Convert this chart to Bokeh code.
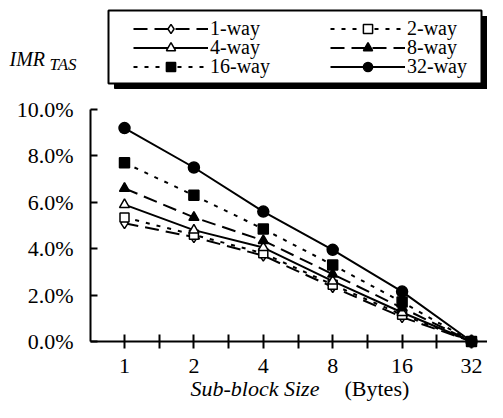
from bokeh.plotting import figure
from bokeh.models import (Range1d, FixedTicker, Legend, LegendItem, Label,
                          BoxAnnotation, NumeralTickFormatter)
from bokeh.embed import file_html
from bokeh.resources import INLINE

# ---- data ----
sizes = ["1", "2", "4", "8", "16", "32"]
way1 = [5.1, 4.5, 3.7, 2.35, 1.05, 0.0]
way2 = [5.35, 4.6, 3.8, 2.45, 1.15, 0.0]
way4 = [5.9, 4.8, 4.05, 2.6, 1.25, 0.0]
way8 = [6.6, 5.35, 4.35, 2.9, 1.45, 0.0]
way16 = [7.7, 6.3, 4.85, 3.3, 1.7, 0.0]
way32 = [9.2, 7.5, 5.6, 3.95, 2.15, 0.0]
series_names = ["1-way", "2-way", "4-way", "8-way", "16-way", "32-way"]
y_ticks = [0.0, 0.02, 0.04, 0.06, 0.08, 0.10]

FONT = "Liberation Serif"
W, H = 487, 402
xs = list(range(len(sizes)))

# pixel layout -> data coordinates (the frame fills the whole canvas)
FIRST_PX, LAST_PX = 124, 471   # px of first / last category
AX_L = 90                      # px of the y axis
AX_T, AX_B = 109, 341          # px of 10% and 0%
PXU = (LAST_PX - FIRST_PX) / (xs[-1] - xs[0])
PYU = (AX_B - AX_T) / (y_ticks[-1] - y_ticks[0])


def X(px):
    return xs[0] + (px - FIRST_PX) / PXU


def Y(py):
    return y_ticks[0] + (AX_B - py) / PYU


XMIN, XMAX = X(AX_L), X(W)

p = figure(width=W, height=H, output_backend="svg", toolbar_location=None,
           x_range=Range1d(X(0), X(W)), y_range=Range1d(Y(H), Y(0)),
           min_border=0)
p.outline_line_color = None
p.grid.visible = False
p.background_fill_color = "white"
p.border_fill_color = "white"

# x axis
xa = p.xaxis[0]
xa.fixed_location = y_ticks[0]
xa.bounds = (XMIN, XMAX)
xa.ticker = FixedTicker(ticks=xs, minor_ticks=[i + 0.5 for i in xs[:-1]])
xa.major_label_overrides = {i: s for i, s in zip(xs, sizes)}
xa.major_tick_in = 7
xa.major_tick_out = 7
xa.minor_tick_in = 7
xa.minor_tick_out = 7
xa.axis_line_width = 2
xa.major_tick_line_width = 2
xa.minor_tick_line_width = 2
xa.axis_line_color = "black"
xa.major_tick_line_color = "black"
xa.minor_tick_line_color = "black"
xa.major_label_text_font = FONT
xa.major_label_text_font_size = "22px"
xa.major_label_text_color = "black"
xa.major_label_standoff = 10

# y axis
ya = p.yaxis[0]
ya.fixed_location = XMIN
ya.bounds = (y_ticks[0], y_ticks[-1])
ya.ticker = FixedTicker(ticks=y_ticks, minor_ticks=[])
ya.formatter = NumeralTickFormatter(format="0.0%")
ya.major_tick_in = 7
ya.major_tick_out = 0
ya.minor_tick_in = 0
ya.minor_tick_out = 0
ya.axis_line_width = 2
ya.major_tick_line_width = 2
ya.axis_line_color = "black"
ya.major_tick_line_color = "black"
ya.major_label_text_font = FONT
ya.major_label_text_font_size = "22px"
ya.major_label_text_color = "black"
ya.major_label_standoff = 17

styles = [
    (way1, "diamond", "white", "14 7", 11),
    (way2, "square", "white", "4 7", 9),
    (way4, "triangle", "white", "solid", 10),
    (way8, "triangle", "black", "14 7", 10),
    (way16, "square", "black", "4 7", 10),
    (way32, "circle", "black", "solid", 11),
]

items = {}
for name, (vals, mk, fill, dash, sz) in zip(series_names, styles):
    ys = [v / 100.0 for v in vals]
    r1 = p.line(xs, ys, line_color="black", line_width=2, line_dash=dash)
    r2 = p.scatter(xs, ys, marker=mk, size=sz, fill_color=fill,
                   line_color="black", line_width=1.5)
    items[name] = [r1, r2]

# legend frame with drop shadow
shadow = BoxAnnotation(left=X(114), right=X(487), top=Y(16), bottom=Y(88),
                       fill_color="black", fill_alpha=1.0, line_color="black",
                       line_alpha=1.0)
box = BoxAnnotation(left=X(108), right=X(481), top=Y(10), bottom=Y(83),
                    fill_color="white", fill_alpha=1.0, line_color="black",
                    line_width=2, line_alpha=1.0)
p.add_layout(shadow)
p.add_layout(box)

# one legend per entry so that rows can be packed tightly
ROW_H = 23
cols = [133, 330]
rows = [28, 47, 66]
grid = [["1-way", "2-way"], ["4-way", "8-way"], ["16-way", "32-way"]]
for ri, row in enumerate(grid):
    for ci, name in enumerate(row):
        lg = Legend(items=[LegendItem(label=name, renderers=items[name])],
                    location=(cols[ci], H - rows[ri] - ROW_H / 2),
                    glyph_width=75, glyph_height=ROW_H, label_height=ROW_H,
                    label_standoff=2, spacing=0, padding=0, margin=0,
                    label_text_font=FONT, label_text_font_size="20px",
                    label_text_color="black", border_line_alpha=0,
                    background_fill_alpha=0)
        p.add_layout(lg)

# axis titles
p.add_layout(Label(x=X(9), y=Y(58), text="IMR", text_font=FONT,
                   text_font_style="italic", text_font_size="20px",
                   text_baseline="alphabetic", text_color="black"))
p.add_layout(Label(x=X(49), y=Y(64), text="TAS", text_font=FONT,
                   text_font_style="italic", text_font_size="17px",
                   text_baseline="alphabetic", text_color="black"))
p.add_layout(Label(x=X(190), y=Y(388), text="Sub-block Size", text_font=FONT,
                   text_font_style="italic", text_font_size="22px",
                   text_baseline="alphabetic", text_color="black"))
p.add_layout(Label(x=X(344), y=Y(388), text="(Bytes)", text_font=FONT,
                   text_font_size="22px", text_baseline="alphabetic",
                   text_color="black"))

open("out.html", "w").write(file_html(p, INLINE))
